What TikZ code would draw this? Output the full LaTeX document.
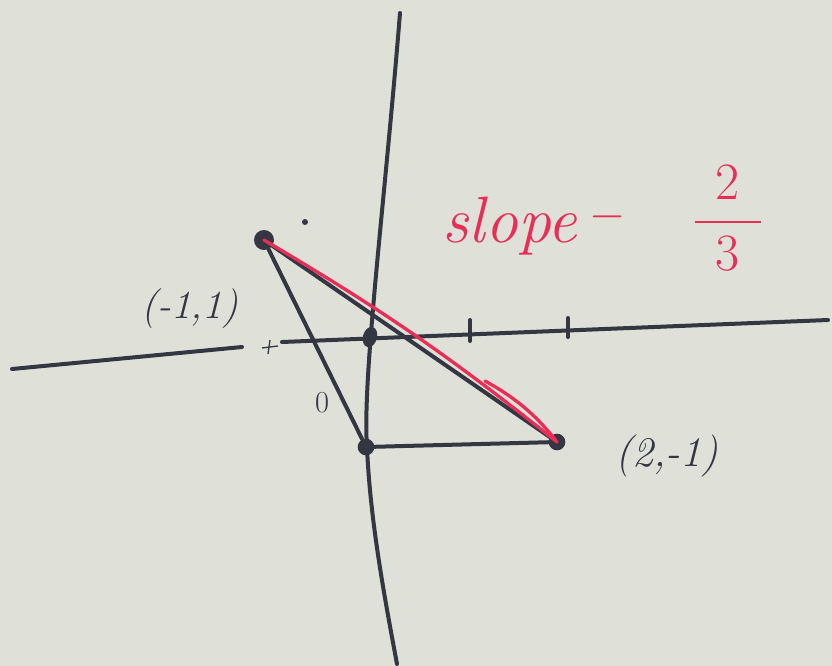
\documentclass[tikz,border=0pt]{standalone}
\usepackage{amsmath}
\usepackage{graphicx}
\usepackage{xcolor}
\usetikzlibrary{shapes.geometric}
\definecolor{board}{RGB}{223,225,217}
\definecolor{marker}{RGB}{52,54,66}
\definecolor{redmarker}{RGB}{232,46,86}
\begin{document}
\begin{tikzpicture}[x=0.03cm,y=-0.03cm,
    ink/.style={draw=marker,line width=1.2mm,line cap=round},
    redink/.style={draw=redmarker,line width=1.0mm,line cap=round},
    spot/.style={shape=circle,fill=marker,inner sep=0pt,minimum size=0.5cm},
    hand/.style={text=marker,font=\fontsize{34}{40}\selectfont\itshape},
    redhand/.style={text=redmarker,font=\fontsize{56}{64}\selectfont\itshape}]
    \fill[board] (0,0) rectangle (832,666);
    \useasboundingbox (0,0) rectangle (832,666);
	% axes
	\coordinate (xl) at (12,369);
	\coordinate (xm) at (242,347);
	\coordinate (xn) at (282,342);
	\coordinate (xr) at (828,320);
	\coordinate (yt) at (400,13);
	\coordinate (yb) at (397,664);
	\path[ink] (xl) edge (xm);
	\path[ink] (xn) edge (xr);
	\draw[ink] (yt) .. controls (385,200) and (362,380) .. (367,447)
	                .. controls (370,520) and (385,600) .. (yb);
	\draw[ink] (470,320) -- (470,341);
	\draw[ink] (568,318) -- (568,337);
	\draw[draw=marker,line width=0.4mm] (262,348) -- (278,346);
	\draw[draw=marker,line width=0.4mm] (270,340) -- (268,354);
	\fill[marker] (305,222) circle (3);
	% points
	\node[shape=ellipse,fill=marker,inner sep=0pt,minimum width=0.42cm,minimum height=0.62cm,rotate=-15] (o) at (370,337) {};
	\node[spot,minimum size=0.6cm] (a) at (264,240) {};
	\node[spot] (c) at (366,447) {};
	\node[spot] (b) at (557,442) {};
	% triangle
	\path[ink] (a) edge (c);
	\path[ink] (c) edge (b);
	\path[ink] (a) edge (b);
	\path[redink] (a.center) edge [bend left=4] (b.center);
	\draw[redink] (485,381) .. controls (520,400) and (540,420) .. (b.center);
	% labels
	\node[hand,font=\fontsize{26}{30}\selectfont] (zero) at (322,403) {0};
	\node[hand] (alabel) at (190,309) {(-1,1)};
	\node[hand,font=\fontsize{36}{42}\selectfont\itshape] (blabel) at (667,456) {(2,-1)};
	\node[redhand] (slope) at (510,226) {slope};
	\node[redhand,font=\Huge] (minus) at (608,217) {\scalebox{1.6}{$-$}};
	\node[redhand,font=\Huge] (frac) at (728,218) {\scalebox{1.8}{$\dfrac{\hspace{10pt}2\hspace{10pt}}{3}$}};
	\end{tikzpicture}
\end{document}
